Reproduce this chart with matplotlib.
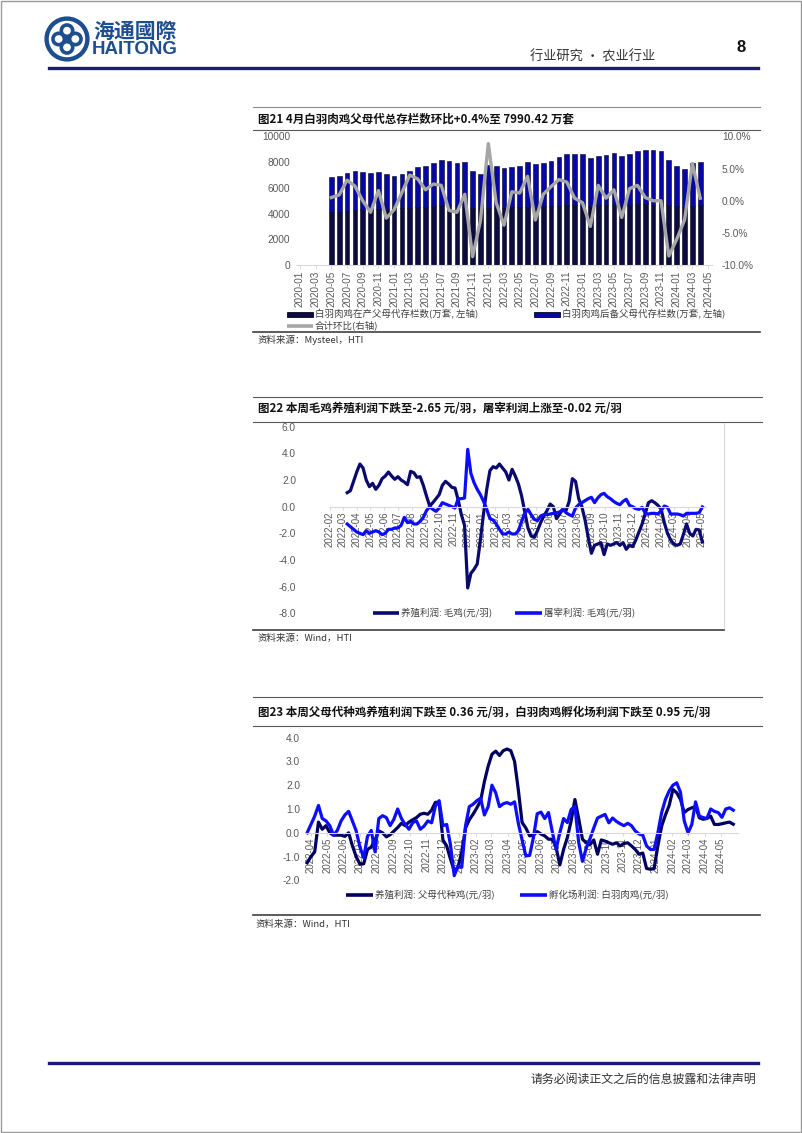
import numpy as np
import pandas as pd
import matplotlib
matplotlib.use("Agg")
import matplotlib.pyplot as plt
from matplotlib.patches import Circle, Rectangle
from matplotlib.lines import Line2D
from matplotlib.ticker import FuncFormatter

plt.rcParams['font.family'] = ['Noto Sans CJK SC', 'DejaVu Sans']
NUM = ['Liberation Sans', 'DejaVu Sans']

# ---------------- data ----------------
# fig 21: monthly parent stock (万套), 2020-05 .. 2024-04
months1 = pd.period_range('2020-01', '2024-05', freq='M').strftime('%Y-%m').tolist()
bar_months = pd.period_range('2020-05', '2024-04', freq='M').strftime('%Y-%m').tolist()
parent_total = [6860, 6930, 7140, 7320, 7270, 7170, 7250, 7060,
                6960, 7060, 7320, 7610, 7710, 7970, 8150, 8080, 7950, 8030, 7320, 7120,
                7770, 7740, 7530, 7610, 7710, 8030, 7840, 7900, 8130, 8390, 8650, 8670,
                8670, 8340, 8520, 8570, 8730, 8470, 8670, 8860, 8930, 8930, 8910, 8150,
                7690, 7480, 7960, 7990.42]
parent_prod = [4150, 4150, 4200, 4250, 4300, 4300, 4350, 4350,
               4400, 4400, 4450, 4500, 4550, 4600, 4650, 4650, 4600, 4550, 4450, 4350,
               4400, 4450, 4450, 4500, 4500, 4550, 4550, 4600, 4600, 4600, 4650, 4650,
               4600, 4600, 4650, 4650, 4700, 4700, 4700, 4750, 4750, 4700, 4700, 4650,
               4600, 4550, 4600, 4650]
total_mom = [0.5, 0.9, 3.2, 2.3, 0.0, -1.8, 1.6, -2.7,
             -1.4, 1.3, 4.0, 3.4, 1.7, 2.6, 2.4, -1.5, -1.8, 1.0, -8.7, -3.1,
             8.9, -0.3, -3.8, 1.4, 1.2, 3.8, -3.0, 1.0, 2.2, 3.3, 2.9, 0.4,
             -0.3, -4.0, 2.4, 0.4, 1.7, -2.6, 1.9, 2.4, 0.5, 0.0, 0.0, -8.6,
             -6.0, -3.0, 5.8, 0.4]

# fig 22: weekly broiler profits (元/羽), from 2022-03-11
farm_profit = [1.05, 1.2, 1.9, 2.6, 3.2, 2.9, 2.0, 1.5, 1.75, 1.3,
               1.6, 2.1, 2.3, 2.6, 2.3, 2.05, 2.25, 2.0, 1.85, 1.65,
               2.65, 2.55, 2.2, 2.25, 1.6, 0.8, 0.05, 0.3, 0.6, 0.9,
               1.6, 1.9, 1.7, 1.45, 1.4, 0.5, -0.6, -1.4, -6.1, -5.0,
               -4.7, -4.3, -2.5, -0.5, 1.3, 2.7, 3.0, 2.9, 3.2, 2.9,
               2.6, 2.0, 2.8, 2.3, 1.7, 0.8, -0.4, -1.6, -2.2, -2.3,
               -1.8, -1.2, -0.7, -0.3, 0.2, 0.0, -0.9, -0.55, -0.2, -0.3,
               0.4, 2.1, 1.9, 0.6, 0.0, -1.0, -2.3, -3.5, -2.9, -2.8,
               -2.7, -3.6, -2.8, -2.9, -2.8, -2.7, -2.9, -2.7, -3.2, -2.9,
               -3.0, -2.5, -1.9, -1.3, -0.5, 0.3, 0.45, 0.3, 0.1, -0.2,
               -1.2, -2.0, -2.5, -2.8, -2.9, -2.8, -2.1, -1.3, -2.0, -2.2,
               -1.7, -1.75, -2.65]
slaughter_profit = [-1.3, -1.5, -1.7, -1.9, -2.0, -2.1, -1.8, -2.0, -1.9, -1.8,
                    -1.9, -2.1, -2.0, -1.7, -1.7, -1.6, -1.6, -1.4, -0.8, -1.2,
                    -1.1, -1.3, -1.3, -1.1, -0.8, -0.3, 0.0, -0.2, -0.35, -0.1,
                    0.3, 0.2, 0.1, 0.0, -0.1, 0.6, 0.6, 0.65, 4.3, 2.5,
                    1.8, 1.3, 0.9, 0.4, -0.2, -0.9, -1.0, -1.3, -1.7, -2.05,
                    -2.05, -1.9, -2.05, -2.05, -1.8, -1.1, -0.5, -0.2, -0.6, -0.95,
                    -1.05, -0.7, -0.6, -0.6, -0.55, -0.5, -0.45, -0.4, -0.2, -0.45,
                    -0.6, -0.7, -0.1, 0.15, 0.3, 0.45, 0.6, 0.7, 0.3, 0.65,
                    0.9, 1.0, 0.75, 0.6, 0.4, 0.25, 0.15, 0.4, 0.55, 0.1,
                    0.0, -0.15, -0.2, -0.05, -0.5, -0.55, -0.5, -0.5, -0.55, -0.3,
                    0.05, -0.05, -0.55, -0.55, -0.55, -0.6, -0.7, -0.5, -0.5, -0.5,
                    -0.5, -0.45, -0.02]

# fig 23: weekly parent-stock / hatchery profits (元/羽), from 2022-03-25
breeder_profit = [-1.26, -1.0, -0.8, 0.45, 0.15, 0.3, 0.0, -0.1, -0.1, -0.1,
                  -0.15, 0.0, -0.55, -1.0, -1.32, -1.3, -0.7, -0.6, -0.3, 0.08,
                  0.0, -0.17, -0.08, 0.07, 0.22, 0.4, 0.3, 0.45, 0.55, 0.64,
                  0.78, 0.82, 0.78, 0.95, 1.28, 1.28, -0.3, -0.55, -1.1, -1.6,
                  -1.45, -0.8, 0.2, 0.55, 0.78, 1.05, 1.35, 2.15, 2.8, 3.3,
                  3.43, 3.25, 3.45, 3.52, 3.45, 3.0, 1.8, 0.43, 0.2, -0.13,
                  -0.1, 0.05, -0.05, -0.13, -0.27, -0.27, -0.6, -1.35, -0.7, -0.2,
                  0.5, 1.4, 0.6, -0.27, -0.42, -0.5, -0.3, -0.9, -0.3, -0.35,
                  -0.42, -0.48, -0.42, -0.55, -0.45, -0.42, -0.55, -0.7, -0.9, -0.85,
                  -1.5, -1.53, -1.5, -0.55, 0.28, 0.75, 1.15, 1.82, 1.68, 1.4,
                  0.85, 0.98, 1.05, 1.1, 0.63, 0.57, 0.6, 0.7, 0.35, 0.35,
                  0.38, 0.42, 0.45, 0.36]
hatchery_profit = [0.0, 0.35, 0.7, 1.15, 0.6, 0.5, 0.3, -0.1, 0.1, 0.5,
                   0.75, 0.9, 0.5, 0.08, -0.6, -1.05, -0.15, 0.1, -0.8, 0.6,
                   0.72, 0.64, 0.3, 0.57, 1.0, 0.6, 0.35, 0.15, 0.43, 0.5,
                   0.15, 0.28, 0.5, 0.42, 1.12, 1.35, 0.3, 0.35, -0.5, -1.8,
                   -1.4, -1.45, 0.3, 1.1, 1.2, 1.35, 1.45, 0.75, 1.1, 2.0,
                   1.68, 1.1, 1.22, 1.27, 1.2, 1.3, 0.4, -0.3, -0.97, -0.95,
                   -0.2, 0.8, 0.87, 0.6, 0.85, 0.05, -0.7, 0.0, 0.6, 0.43,
                   0.98, 1.1, -0.4, -1.2, -0.65, -0.25, 0.2, 0.62, 0.7, 0.77,
                   0.42, 0.62, 0.48, 0.38, 0.3, 0.4, 0.3, 0.08, -0.05, -0.1,
                   -0.55, -0.7, -0.7, 0.0, 0.85, 1.4, 1.76, 2.0, 2.1, 1.7,
                   0.5, 0.0, 0.35, 1.3, 0.7, 0.64, 0.6, 1.0, 0.9, 0.85,
                   0.65, 1.0, 1.05, 0.95]

# ---------------- page helpers ----------------
W, H = 802, 1133
fig = plt.figure(figsize=(W / 100, H / 100), dpi=100)


def fx(x):
    return x / W


def fy(y):
    return 1 - y / H


def rect(l, t, r, b):
    return [l / W, 1 - b / H, (r - l) / W, (b - t) / H]


def hline(y, x0, x1, color='#595959', lw=0.8):
    fig.add_artist(Line2D([fx(x0), fx(x1)], [fy(y), fy(y)], color=color, lw=lw))


def ftext(x, y, s, **kw):
    kw.setdefault('va', 'center')
    fig.text(fx(x), fy(y), s, **kw)


def leg_line(x0, x1, y, label, color, lw=2.6):
    fig.add_artist(Line2D([fx(x0), fx(x1)], [fy(y), fy(y)], color=color, lw=lw,
                          solid_capstyle='butt'))
    ftext(x1 + 2, y, label, fontsize=6.8, color='#404040')


def leg_patch(x0, x1, y, label, color):
    fig.add_artist(Rectangle((fx(x0), fy(y + 2.5)), (x1 - x0) / W, 5 / H,
                             transform=fig.transFigure, fc=color, ec='#05051e', lw=0.6))
    ftext(x1 + 2, y, label, fontsize=6.8, color='#404040')


def date_axis(ax, ticks):
    # Excel-style: month labels hang below the zero line, lines drawn over them
    for s in ['top', 'right', 'left']:
        ax.spines[s].set_visible(False)
    ax.spines['bottom'].set_position(('data', 0))
    ax.spines['bottom'].set_color('#d9d9d9')
    ax.set_xticks(ticks)
    ax.set_xticklabels(ticks.strftime('%Y-%m'))
    ax.set_axisbelow(True)
    ax.yaxis.set_major_formatter(FuncFormatter(lambda v, p: f'{v:.1f}'))


# page border
fig.add_artist(Rectangle((0.0008, 0.0008), 0.998, 0.998, transform=fig.transFigure,
                         fill=False, ec='#9a9a9a', lw=1))

# logo
axl = fig.add_axes(rect(44, 16, 90, 62))
axl.set_xlim(-1.05, 1.05)
axl.set_ylim(-1.05, 1.05)
axl.set_aspect('equal')
axl.axis('off')
logo_blue = '#1d4e8f'
axl.add_patch(Circle((0, 0), 1.0, color=logo_blue))
axl.add_patch(Circle((0, 0), 0.8, color='white'))
for cx, cy in [(0, 0.38), (0.38, 0), (0, -0.38), (-0.38, 0)]:
    axl.add_patch(Circle((cx, cy), 0.26, fill=False, ec=logo_blue, lw=2.6))
axl.add_patch(Circle((0, 0), 0.1, color=logo_blue))
ftext(93, 31, '海通國際', fontsize=15, color=logo_blue, fontweight='bold')
ftext(92, 50, 'HAITONG', fontsize=13.5, color=logo_blue, fontweight='bold', family=NUM)

ftext(655, 57, '行业研究 • 农业行业', fontsize=9.5, color='#333333', ha='right')
ftext(741, 48, '8', fontsize=12, fontweight='bold', ha='center', family=NUM, color='#111111')
hline(68, 49, 758, '#1c1c78', 2.4)
hline(1063, 49, 758, '#1c1c78', 2.4)
ftext(756, 1079, '请务必阅读正文之后的信息披露和法律声明', fontsize=8.6, color='#333333', ha='right')

# ---------------- fig 21 ----------------
hline(107, 253, 760, '#8c8c8c', 0.8)
ftext(258, 119.5, '图21 4月白羽肉鸡父母代总存栏数环比+0.4%至 7990.42 万套',
      fontsize=8.3, fontweight='bold', color='#111111')
hline(130, 253, 760, '#595959', 0.8)

ax1 = fig.add_axes(rect(296, 136.5, 712, 265))
xpos = [months1.index(m) for m in bar_months]
reserve = np.array(parent_total) - np.array(parent_prod)
ax1.bar(xpos, parent_prod, width=0.6, color='#0b0b3d', edgecolor='#05051e', linewidth=0.4)
ax1.bar(xpos, reserve, bottom=parent_prod, width=0.6, color='#0707a8',
        edgecolor='#05051e', linewidth=0.4)
ax1.set_xlim(-0.5, len(months1) - 0.5)
ax1.set_ylim(0, 10000)
ax1.set_yticks(range(0, 10001, 2000))
ax1.set_xticks(range(0, len(months1), 2))
ax1.set_xticklabels(months1[::2])
for s in ['top', 'right', 'left']:
    ax1.spines[s].set_visible(False)
ax1.spines['bottom'].set_color('#d9d9d9')
ax1.tick_params(axis='y', length=0, pad=4.3, labelsize=7.3, labelcolor='#595959',
                labelfontfamily=NUM)
ax1.tick_params(axis='x', length=2.5, color='#d9d9d9', pad=1.5, labelsize=7.1,
                labelcolor='#595959', labelfontfamily=NUM, labelrotation=90)

ax1b = ax1.twinx()
ax1b.plot(xpos, total_mom, color='#a6a6a6', lw=2.4)
ax1b.set_ylim(-10, 10)
ax1b.set_yticks([-10, -5, 0, 5, 10])
ax1b.yaxis.set_major_formatter(FuncFormatter(lambda v, p: f'{v:.1f}%'))
for s in ax1b.spines.values():
    s.set_visible(False)
ax1b.tick_params(axis='y', length=0, pad=7.2, labelsize=7.3, labelcolor='#595959',
                 labelfontfamily=NUM)

leg_patch(287, 313, 314.5, '白羽肉鸡在产父母代存栏数(万套, 左轴)', '#0b0b3d')
leg_patch(534, 560, 314.5, '白羽肉鸡后备父母代存栏数(万套, 左轴)', '#0707a8')
leg_line(287, 313, 325.5, '合计环比(右轴)', '#a6a6a6')
hline(331.5, 253, 760, '#404040', 1.2)
ftext(258, 340, '资料来源：Mysteel，HTI', fontsize=6.8, color='#333333')

# ---------------- fig 22 ----------------
hline(397, 253, 762, '#595959', 0.8)
ftext(258, 409, '图22 本周毛鸡养殖利润下跌至-2.65 元/羽，屠宰利润上涨至-0.02 元/羽',
      fontsize=8.3, fontweight='bold', color='#111111')
hline(421.7, 253, 762, '#595959', 0.8)

ax2 = fig.add_axes(rect(330, 426.7, 706, 613.3))
d2 = pd.date_range('2022-03-11', periods=len(farm_profit), freq='W-FRI')
ax2.plot(d2, farm_profit, color='#0a0a6e', lw=2.3, solid_joinstyle='round')
ax2.plot(d2, slaughter_profit, color='#0c0cff', lw=2.3, solid_joinstyle='round')
ax2.set_ylim(-8, 6)
ax2.set_yticks(range(-8, 7, 2))
ax2.set_xlim(pd.Timestamp('2022-02-01'), pd.Timestamp('2024-05-11'))
date_axis(ax2, pd.date_range('2022-02-01', '2024-05-01', freq='MS'))
ax2.tick_params(axis='y', length=0, pad=24.5, labelsize=7.3, labelcolor='#595959',
                labelfontfamily=NUM)
ax2.tick_params(axis='x', length=2.5, color='#d9d9d9', pad=1, labelsize=7,
                labelcolor='#595959', labelfontfamily=NUM, labelrotation=90)
fig.add_artist(Line2D([fx(723.5), fx(723.5)], [fy(423), fy(629)], color='#d9d9d9', lw=0.8))

leg_line(373, 399, 613, '养殖利润: 毛鸡(元/羽)', '#0a0a6e')
leg_line(515, 542, 613, '屠宰利润: 毛鸡(元/羽)', '#0c0cff')
hline(629.5, 253, 724, '#404040', 1.2)
ftext(258, 638, '资料来源：Wind，HTI', fontsize=6.8, color='#333333')

# ---------------- fig 23 ----------------
hline(697, 253, 762, '#595959', 0.8)
ftext(258, 712.5, '图23 本周父母代种鸡养殖利润下跌至 0.36 元/羽，白羽肉鸡孵化场利润下跌至 0.95 元/羽',
      fontsize=8.3, fontweight='bold', color='#111111')
hline(726, 253, 762, '#595959', 0.8)

ax3 = fig.add_axes(rect(305, 737.6, 737.6, 880.4))
d3 = pd.date_range('2022-03-25', periods=len(breeder_profit), freq='W-FRI')
ax3.plot(d3, breeder_profit, color='#000060', lw=2.3, solid_joinstyle='round')
ax3.plot(d3, hatchery_profit, color='#0c0cff', lw=2.3, solid_joinstyle='round')
ax3.set_ylim(-2, 4)
ax3.set_yticks(range(-2, 5))
ax3.set_xlim(pd.Timestamp('2022-03-21'), pd.Timestamp('2024-06-01'))
date_axis(ax3, pd.date_range('2022-04-01', '2024-05-01', freq='MS'))
ax3.tick_params(axis='y', length=0, pad=3.6, labelsize=7.3, labelcolor='#595959',
                labelfontfamily=NUM)
ax3.tick_params(axis='x', length=2.5, color='#d9d9d9', pad=1, labelsize=6.9,
                labelcolor='#595959', labelfontfamily=NUM, labelrotation=90)

leg_line(346, 373, 895, '养殖利润: 父母代种鸡(元/羽)', '#000060')
leg_line(520, 547, 895, '孵化场利润: 白羽肉鸡(元/羽)', '#0c0cff')
hline(914.5, 253, 760, '#404040', 1.2)
ftext(255, 924.5, '资料来源：Wind，HTI', fontsize=6.8, color='#333333')

fig.savefig('out.png', dpi=100)
